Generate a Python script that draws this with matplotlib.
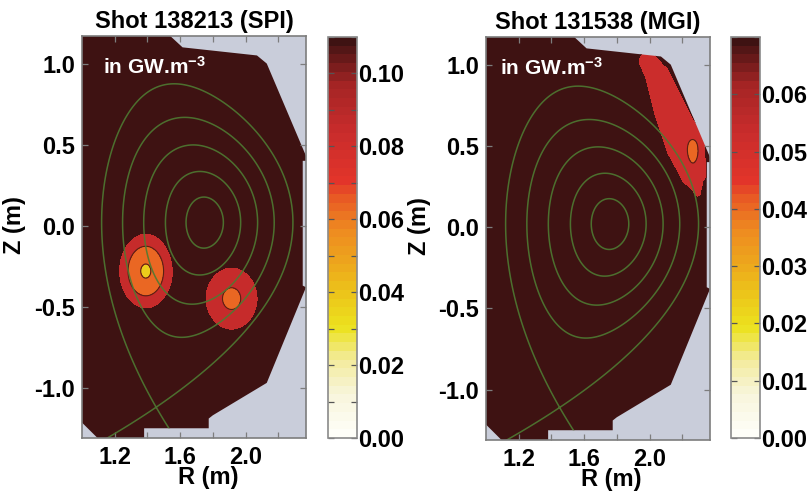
import numpy as np
import matplotlib
matplotlib.use('Agg')
import matplotlib.pyplot as plt
from matplotlib.colors import LinearSegmentedColormap, Normalize
from matplotlib.patches import Polygon
from matplotlib.cm import ScalarMappable
from matplotlib.ticker import MultipleLocator, FixedLocator, FixedFormatter

# ---------------- data ----------------
titles = ['Shot 138213 (SPI)', 'Shot 131538 (MGI)']
unit_text = r'in GW.m$\mathregular{^{-3}}$'
x_label = 'R (m)'
y_label = 'Z (m)'
R_tick_pos = [1.2, 1.4, 1.6, 1.8, 2.0, 2.2]
R_tick_lab = ['1.2', '', '1.6', '', '2.0', '']
Z_ticks = [-1.0, -0.5, 0.0, 0.5, 1.0]
Z_tick_lab = ['-1.0', '-0.5', '0.0', '0.5', '1.0']
R_lim = (1.0, 2.37)
Z_lim = (-1.31, 1.17)

cbar_max = [0.11, 0.07]
cbar_major = [[0.00, 0.02, 0.04, 0.06, 0.08, 0.10],
              [0.00, 0.01, 0.02, 0.03, 0.04, 0.05, 0.06]]
cbar_minor_step = [0.01, 0.01]

# colour map (fraction of colour-bar range -> colour)
cmap_pos = [0.0, 0.10, 0.19, 0.27, 0.36, 0.43, 0.52, 0.60, 0.645, 0.77, 0.89, 1.0]
cmap_hex = ['#fefef8', '#f8f5dc', '#f3eb9a', '#ece21e', '#ecc41a', '#eda81c',
            '#ee8a20', '#e85a24', '#e2342a', '#c82c2c', '#a42424', '#3e1212']

# vessel wall (R, Z)
wall_R = [0.95, 1.40, 1.615, 2.07, 2.13, 2.37, 2.37, 2.35, 2.35, 2.37, 2.13,
          1.80, 1.775, 1.775, 1.38, 1.38, 1.185, 0.95]
wall_Z = [1.30, 1.30, 1.10, 1.05, 1.00, 0.43, 0.40, 0.40, -0.37, -0.38, -0.97,
          -1.17, -1.19, -1.25, -1.25, -1.40, -1.40, -1.165]

# flux-surface model parameters per shot
flux_R0 = [1.705, 1.71]
flux_a = [0.585, 0.59]
flux_Z0 = [0.02, 0.02]
flux_b = [1.14, 1.13]
flux_delta = [0.43, 0.44]
flux_shift = [0.085, 0.09]
flux_poly = [2.111, 0.222, -0.889]   # y^2, y^3, y^4 coefficients
flux_levels = [0.04, 0.16, 0.36, 0.63, 1.0]

# SPI radiation: background and blobs
spi_background = 0.12
spi_blob_R = [1.39, 1.915]
spi_blob_Z = [-0.28, -0.45]
spi_blob_sR = [0.110, 0.133]
spi_blob_sZ = [0.155, 0.160]
spi_blob_depth = [0.078, 0.0524]
spi_levels = [0.0, 0.045, 0.072, 0.095, 1.0]
spi_band_values = [0.036, 0.063, 0.084, 0.11]
spi_outline_levels = [0.045, 0.072]

# MGI radiation: strip along the wall (centre line + half widths) + spot
mgi_background = 0.08
mgi_strip_R = [1.99, 2.05, 2.13, 2.215, 2.265, 2.295]
mgi_strip_Z = [1.02, 0.93, 0.71, 0.50, 0.33, 0.21]
mgi_strip_halfwidth = [0.06, 0.08, 0.105, 0.12, 0.085, 0.025]
mgi_strip_depth = 0.030
mgi_spot_R = [2.275]
mgi_spot_Z = [0.48]
mgi_spot_sR = [0.033]
mgi_spot_sZ = [0.07]
mgi_spot_depth = [0.012]
mgi_levels = [0.0, 0.045, 0.060, 1.0]
mgi_band_values = [0.040, 0.053, 0.07]
mgi_outline_levels = [0.045]

# ---------------- styling ----------------
FONT = ['Liberation Sans Narrow', 'Liberation Sans', 'DejaVu Sans']
plt.rcParams['font.family'] = FONT
plt.rcParams['font.weight'] = 'bold'
FS = 17
GRAY_BG = '#c9cdda'
SPINE = '#7d7d7d'
GREEN = '#4e7a32'
OUTLINE = '#5a2212'

cmap = LinearSegmentedColormap.from_list('rad', list(zip(cmap_pos, cmap_hex)), N=46)

W, H = 807, 498
fig = plt.figure(figsize=(W / 100, H / 100), dpi=100)


def px_axes(x, y, w, h):
    return fig.add_axes([x / W, 1 - (y + h) / H, w / W, h / H])


ax_px = [(82, 36, 224, 402), (486, 37, 224, 403)]
cb_px = [(328, 37, 29, 401), (731, 37, 29, 401)]
unit_xy = [(0.094, 0.905), (0.062, 0.905)]
ylab_x = [-0.25, -0.245]
xlab_x = [0.5625, 0.558]

Rg = np.linspace(0.95, 2.42, 440)
Zg = np.linspace(-1.42, 1.32, 800)
RR, ZZ = np.meshgrid(Rg, Zg)


def psi_field(i):
    x = (RR - flux_R0[i]) / flux_a[i]
    y = (ZZ - flux_Z0[i]) / flux_b[i]
    r2 = x ** 2 + (1.45 * y) ** 2
    shift = flux_shift[i] * np.clip(1 - r2, 0, None) ** 2
    xs = x + flux_delta[i] * y ** 2 - shift
    c2, c3, c4 = flux_poly
    return xs ** 2 + c2 * y ** 2 + c3 * y ** 3 + c4 * y ** 4


def spi_field():
    f = np.full_like(RR, spi_background)
    for r, z, sr, sz, d in zip(spi_blob_R, spi_blob_Z, spi_blob_sR, spi_blob_sZ, spi_blob_depth):
        f -= d * np.exp(-0.5 * (((RR - r) / sr) ** 2 + ((ZZ - z) / sz) ** 2))
    return f


def mgi_field():
    g = np.zeros_like(RR)
    for k in range(len(mgi_strip_R) - 1):
        ax_, ay = mgi_strip_R[k], mgi_strip_Z[k]
        dx, dy = mgi_strip_R[k + 1] - ax_, mgi_strip_Z[k + 1] - ay
        t = np.clip(((RR - ax_) * dx + (ZZ - ay) * dy) / (dx * dx + dy * dy), 0, 1)
        d = np.hypot(RR - (ax_ + t * dx), ZZ - (ay + t * dy))
        w = (mgi_strip_halfwidth[k] + t * (mgi_strip_halfwidth[k + 1] - mgi_strip_halfwidth[k])) / 0.9
        g = np.maximum(g, np.exp(-0.5 * (d / w) ** 2))
    f = mgi_background - mgi_strip_depth * g
    for r, z, sr, sz, dd in zip(mgi_spot_R, mgi_spot_Z, mgi_spot_sR, mgi_spot_sZ, mgi_spot_depth):
        f -= dd * np.exp(-0.5 * (((RR - r) / sr) ** 2 + ((ZZ - z) / sz) ** 2))
    return f


fields = [spi_field(), mgi_field()]
levels = [spi_levels, mgi_levels]
band_values = [spi_band_values, mgi_band_values]
outline_levels = [spi_outline_levels, mgi_outline_levels]

for i in range(2):
    ax = px_axes(*ax_px[i])
    ax.set_facecolor(GRAY_BG)
    norm = Normalize(0, cbar_max[i])
    wall = Polygon(np.column_stack([wall_R, wall_Z]), closed=True,
                   facecolor='none', edgecolor='none', transform=ax.transData)
    ax.add_patch(wall)

    cols = [cmap(norm(v)) for v in band_values[i]]
    cf = ax.contourf(RR, ZZ, fields[i], levels=levels[i], colors=cols, antialiased=False)
    cf.set_clip_path(wall)
    co = ax.contour(RR, ZZ, fields[i], levels=outline_levels[i], colors=OUTLINE, linewidths=0.8)
    co.set_clip_path(wall)
    cp = ax.contour(RR, ZZ, psi_field(i), levels=flux_levels, colors=GREEN,
                    linewidths=1.1, alpha=0.9)
    cp.set_clip_path(wall)

    ax.set_xlim(*R_lim)
    ax.set_ylim(*Z_lim)
    ax.xaxis.set_major_locator(FixedLocator(R_tick_pos))
    ax.xaxis.set_major_formatter(FixedFormatter(R_tick_lab))
    ax.yaxis.set_major_locator(FixedLocator(Z_ticks))
    ax.yaxis.set_major_formatter(FixedFormatter(Z_tick_lab))
    ax.tick_params(direction='in', top=True, right=True, length=4, width=0.9,
                   color=SPINE, labelsize=FS, pad=5)
    ax.tick_params(axis='x', pad=6)
    for sp in ax.spines.values():
        sp.set_color(SPINE)
        sp.set_linewidth(1.2)
    ax.set_title(titles[i], fontsize=FS, fontweight='bold', pad=5.5)
    ax.set_xlabel(x_label, fontsize=FS, fontweight='bold')
    ax.xaxis.set_label_coords(xlab_x[i], -0.07)
    ax.xaxis.label.set_va('top')
    ax.set_ylabel(y_label, fontsize=FS, fontweight='bold')
    ax.yaxis.set_label_coords(ylab_x[i], 0.53)
    ax.text(unit_xy[i][0], unit_xy[i][1], unit_text, transform=ax.transAxes,
            color='white', fontsize=15, fontweight='bold', ha='left', va='baseline')

    cax = px_axes(*cb_px[i])
    cb = fig.colorbar(ScalarMappable(norm=norm, cmap=cmap), cax=cax)
    cb.set_ticks(cbar_major[i])
    cb.set_ticklabels(['%.2f' % v for v in cbar_major[i]])
    cax.yaxis.set_minor_locator(MultipleLocator(cbar_minor_step[i]))
    cax.tick_params(which='both', direction='in', left=True, right=True, length=4,
                    width=0.9, color='#555555', labelsize=FS, pad=0.5)
    cb.outline.set_edgecolor('#8a8a8a')
    cb.outline.set_linewidth(1.2)

fig.savefig('out.png', dpi=100)
